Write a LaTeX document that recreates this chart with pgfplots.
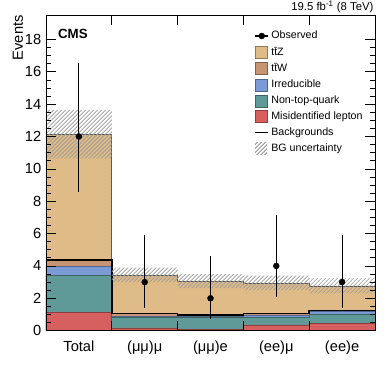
\documentclass[border=0pt]{standalone}
\usepackage{fontspec}
\setmainfont{Liberation Sans}
\usepackage{pgfplots}
\pgfplotsset{compat=1.18}
\usetikzlibrary{patterns}

\definecolor{cttz}{RGB}{223,187,135}
\definecolor{cttw}{RGB}{199,148,116}
\definecolor{cirr}{RGB}{123,155,214}
\definecolor{cntq}{RGB}{95,154,152}
\definecolor{cmis}{RGB}{214,96,96}

\pgfplotsset{
  sqleg/.style={legend image code/.code={\draw[##1] (0pt,-4.5pt) rectangle (9pt,4.5pt);}},
  obsleg/.style={legend image code/.code={\draw[black, line width=0.8pt] (0pt,0pt) -- (10pt,0pt);
      \fill[black] (5pt,0pt) circle (2.2pt);}},
  bkgleg/.style={legend image code/.code={\draw[black, line width=1.3pt] (0pt,0pt) -- (10pt,0pt);}},
  unleg/.style={legend image code/.code={\path[draw=none, pattern=north east lines, pattern color=gray] (0pt,-4.5pt) rectangle (9pt,4.5pt);}},
  stk/.style={const plot mark left, fill=#1, draw=#1!65!black, line width=0.5pt, forget plot},
}

\begin{document}
\begin{tikzpicture}
\begin{axis}[
  scale only axis, width=246.75pt, height=236.6pt,
  xmin=0, xmax=5, ymin=0, ymax=19.5,
  axis on top,
  axis line style={black, line width=0.7pt},
  ytick={0,2,...,18}, minor y tick num=3,
  xtick={1,2,3,4}, xticklabels={},
  extra x ticks={0.5,1.5,2.5,3.5,4.5},
  extra x tick labels={Total,(μμ)μ,(μμ)e,(ee)μ,(ee)e},
  extra x tick style={major tick length=0pt},
  major tick length=7.5pt, minor tick length=3.75pt,
  tick style={black, line width=0.5pt},
  ticklabel style={font=\fontsize{11}{13}\selectfont},
  xticklabel style={yshift=-4pt},
  /pgf/number format/assume math mode=true,
  ylabel={Events},
  ylabel style={font=\fontsize{11}{13}\selectfont, at={([xshift=-17pt]rel axis cs:0,1)}, anchor=south east, inner sep=0pt},
  legend style={at={(0.62,0.965)}, anchor=north west, draw=none, fill=none,
    font=\fontsize{8}{9.5}\selectfont, row sep=1.6pt, nodes={inner sep=1.5pt}},
  legend cell align=left,
]
% stacked cumulative histograms (bin edges 0..5)
\addplot[stk=cttz] coordinates {(0,12.14) (1,3.44) (2,3.07) (3,2.94) (4,2.76) (5,2.76)} \closedcycle;
\addplot[stk=cttw] coordinates {(0,4.36) (1,1.07) (2,0.97) (3,1.05) (4,1.26) (5,1.26)} \closedcycle;
\addplot[stk=cirr] coordinates {(0,3.97) (1,0.90) (2,0.88) (3,0.97) (4,1.19) (5,1.19)} \closedcycle;
\addplot[stk=cntq] coordinates {(0,3.40) (1,0.80) (2,0.84) (3,0.82) (4,1.03) (5,1.03)} \closedcycle;
\addplot[stk=cmis] coordinates {(0,1.13) (1,0.17) (2,0.08) (3,0.35) (4,0.47) (5,0.47)} \closedcycle;
% total prediction outline
\addplot[const plot mark left, draw=gray!70!black, line width=0.5pt, forget plot]
  coordinates {(0,12.14) (1,3.44) (2,3.07) (3,2.94) (4,2.76) (5,2.76)};
% backgrounds line
\addplot[const plot mark left, draw=black, line width=1.1pt, forget plot]
  coordinates {(0,4.36) (1,1.07) (2,0.97) (3,1.05) (4,1.26) (5,1.26)};
% uncertainty band
\addplot[draw=none, pattern=north east lines, pattern color=gray!80, forget plot]
  coordinates {(0,13.64) (1,13.64) (1,3.89) (2,3.89) (2,3.50) (3,3.50) (3,3.40) (4,3.40) (4,3.24) (5,3.24)
               (5,2.30) (4,2.30) (4,2.50) (3,2.50) (3,2.62) (2,2.62) (2,3.00) (1,3.00) (1,10.64) (0,10.64)} -- cycle;
% observed
\addplot[only marks, mark=*, mark size=2.2pt, black, forget plot,
  error bars/.cd, y dir=both, y explicit, error mark=none,
  error bar style={line width=0.8pt}]
  coordinates {
    (0.5,12) += (0,4.52) -= (0,3.46)
    (1.5,3) += (0,2.92) -= (0,1.63)
    (2.5,2) += (0,2.64) -= (0,1.29)
    (3.5,4) += (0,3.16) -= (0,1.91)
    (4.5,3) += (0,2.92) -= (0,1.63)
  };
\addlegendimage{obsleg}\addlegendentry{Observed}
\addlegendimage{sqleg, fill=cttz, draw=cttz!65!black}\addlegendentry{t\={t}Z}
\addlegendimage{sqleg, fill=cttw, draw=cttw!65!black}\addlegendentry{t\={t}W}
\addlegendimage{sqleg, fill=cirr, draw=cirr!65!black}\addlegendentry{Irreducible}
\addlegendimage{sqleg, fill=cntq, draw=cntq!65!black}\addlegendentry{Non-top-quark}
\addlegendimage{sqleg, fill=cmis, draw=cmis!65!black}\addlegendentry{Misidentified lepton}
\addlegendimage{bkgleg}\addlegendentry{Backgrounds}
\addlegendimage{unleg}\addlegendentry{BG uncertainty}
\node[anchor=north west, font=\fontsize{10}{12}\selectfont\bfseries, inner sep=0pt] at (rel axis cs:0.036,0.955) {CMS};
\end{axis}
\node[anchor=south east, font=\fontsize{8.5}{10}\selectfont, inner sep=1pt] at ([yshift=0.5pt]current axis.north east) {19.5 fb\textsuperscript{-1} (8 TeV)};
\path ([xshift=-34.5pt,yshift=-33.75pt]current axis.south west) rectangle ([xshift=11.25pt,yshift=10.9pt]current axis.north east);
\end{tikzpicture}
\end{document}
